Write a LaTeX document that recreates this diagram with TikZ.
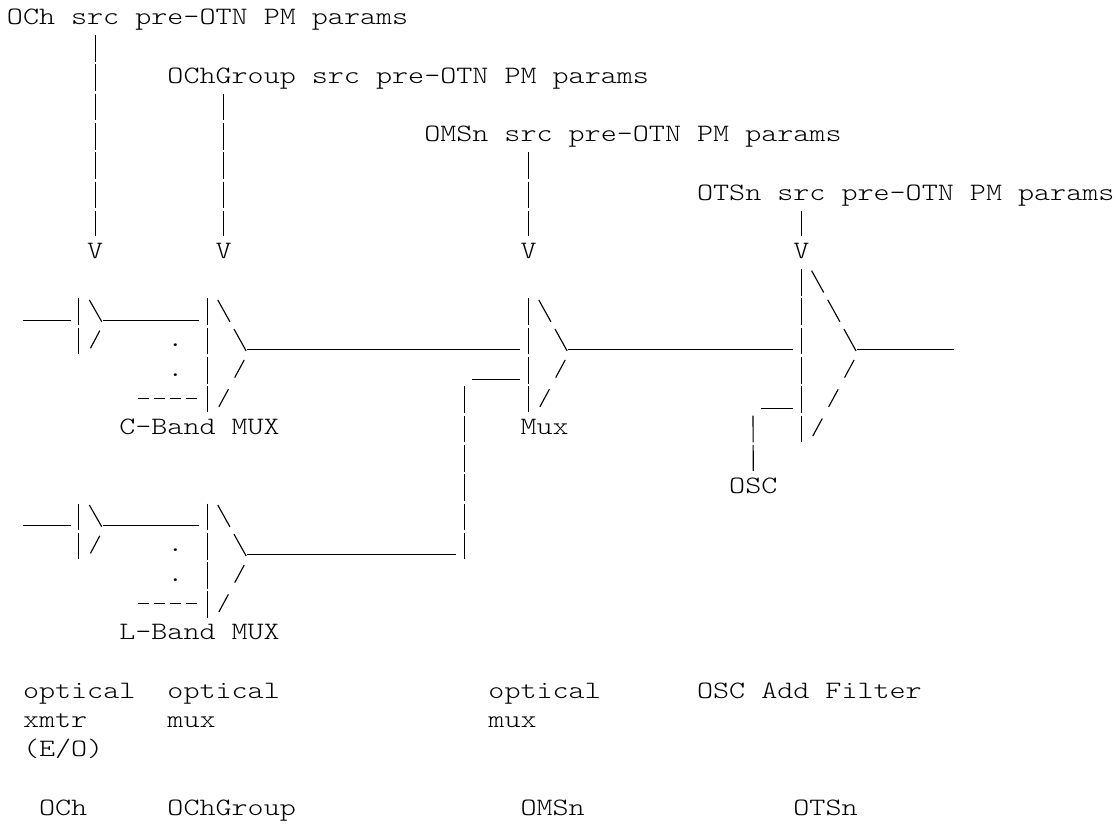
\documentclass[tikz,border=0pt]{standalone}
\usepackage{fontspec}
\setmonofont{Latin Modern Mono Light}[FakeStretch=1.223]
\tikzset{
    txt/.style={anchor=base west,inner sep=0pt,text height=16.7pt,text depth=7.7pt,font=\fontsize{18.75pt}{22pt}\ttfamily},
    wire/.style={draw,line width=.85pt},
    vbar/.style={wire,dash pattern=on 20pt off 1.975pt},
    bslash/.style={wire,dash pattern=on 18.75pt off 6.3pt},
    fslash/.style={wire,dash pattern=on 15pt off 10pt},
    minus/.style={wire,dash pattern=on 8.6pt off 3.44pt}
}
\begin{document}
\begin{tikzpicture}[x=12.0375pt,y=-21.975pt]
            \useasboundingbox (-.417,-.836) rectangle (69.117,27.32);

            % parameter labels
            \node   [txt]   at (0,0)    (ochsrc)    {OCh src pre-OTN PM params};
            \node   [txt]   at (10,2)   (grpsrc)    {OChGroup src pre-OTN PM params};
            \node   [txt]   at (26,4)   (omssrc)    {OMSn src pre-OTN PM params};
            \node   [txt]   at (43,6)   (otssrc)    {OTSn src pre-OTN PM params};
            \node   [txt]   at (5,8)    (ochv)      {V};
            \node   [txt]   at (13,8)   (grpv)      {V};
            \node   [txt]   at (32,8)   (omsv)      {V};
            \node   [txt]   at (49,8)   (otsv)      {V};

            \path   [vbar]  (ochv |- ochsrc.south) -- (ochv.north);
            \path   [vbar]  (grpv |- grpsrc.south) -- (grpv.north);
            \path   [vbar]  (omsv |- omssrc.south) -- (omsv.north);
            \path   [vbar]  (otsv |- otssrc.south) -- (otsv.north);

            % mux names and dots
            \node   [txt]   at (7,14)   (cmux)      {C-Band MUX};
            \node   [txt]   at (7,21)   (lmux)      {L-Band MUX};
            \node   [txt]   at (32,14)  (omux)      {Mux};
            \node   [txt]   at (45,16)  (osc)       {OSC};
            \node   [txt]   at (10,11)  (cdot1)     {.};
            \node   [txt]   at (10,12)  (cdot2)     {.};
            \node   [txt]   at (10,18)  (ldot1)     {.};
            \node   [txt]   at (10,19)  (ldot2)     {.};

            % ends of the connectors
            \coordinate (cin)   at (1,10.1);
            \coordinate (cbar)  at (4,10.1);
            \coordinate (ctip)  at (6,10.1);
            \coordinate (cout)  at (12,10.1);
            \coordinate (cdash) at (8.16,12.75);
            \coordinate (cdend) at (11.9,12.75);
            \coordinate (cmtip) at (15,11.1);
            \coordinate (omin)  at (32,11.1);
            \coordinate (omtip) at (35,11.1);
            \coordinate (otin)  at (49,11.1);
            \coordinate (ottip) at (53,11.1);
            \coordinate (otout) at (59,11.1);
            \coordinate (omin2) at (32,12.12);
            \coordinate (omjog) at (29,12.12);
            \coordinate (rise)  at (28.5,12.35);
            \coordinate (rised) at (28.5,18.24);
            \coordinate (lmtip) at (15,18.1);
            \coordinate (lmout) at (28,18.1);
            \coordinate (lin)   at (1,17.1);
            \coordinate (lbar)  at (4,17.1);
            \coordinate (ltip)  at (6,17.1);
            \coordinate (lout)  at (12,17.1);
            \coordinate (ldash) at (8.16,19.75);
            \coordinate (ldend) at (11.9,19.75);
            \coordinate (otin2) at (49,13.1);
            \coordinate (otjog) at (47,13.1);
            \coordinate (oscup) at (46.5,13.35);

            \path   [wire]  (cin) -- (cbar);
            \path   [wire]  (ctip) -- (cout);
            \path   [wire]  (cmtip) -- (omin);
            \path   [wire]  (omtip) -- (otin);
            \path   [wire]  (ottip) -- (otout);
            \path   [wire]  (omjog) -- (omin2);
            \path   [wire]  (lmtip) -- (lmout);
            \path   [wire]  (lin) -- (lbar);
            \path   [wire]  (ltip) -- (lout);
            \path   [wire]  (otjog) -- (otin2);
            \path   [vbar]  (rise) -- (rised);
            \path   [vbar]  (oscup) -- (osc.north);
            \path   [minus] (cdash) -- (cdend);
            \path   [minus] (ldash) -- (ldend);

            % C-Band transmitter and mux
            \path   [vbar]      (4.5,9.35) -- (4.5,11.24);
            \path   [bslash]    (5.15,9.4) -- (5.92,10.14);
            \path   [fslash]    (5.22,11.05) -- (5.8,10.45);
            \path   [vbar]      (12.5,9.35) -- (12.5,13.24);
            \path   [bslash]    (13.15,9.4) -- (14.92,11.14);
            \path   [fslash]    (13.22,13.05) -- (14.8,11.45);

            % L-Band transmitter and mux
            \path   [vbar]      (4.5,16.35) -- (4.5,18.24);
            \path   [bslash]    (5.15,16.4) -- (5.92,17.14);
            \path   [fslash]    (5.22,18.05) -- (5.8,17.45);
            \path   [vbar]      (12.5,16.35) -- (12.5,20.24);
            \path   [bslash]    (13.15,16.4) -- (14.92,18.14);
            \path   [fslash]    (13.22,20.05) -- (14.8,18.45);

            % OMSn mux
            \path   [vbar]      (32.5,9.35) -- (32.5,13.24);
            \path   [bslash]    (33.15,9.4) -- (34.92,11.14);
            \path   [fslash]    (33.22,13.05) -- (34.8,11.45);

            % OSC add filter
            \path   [vbar]      (49.5,8.35) -- (49.5,14.24);
            \path   [bslash]    (50.15,8.4) -- (52.92,11.14);
            \path   [fslash]    (50.22,14.05) -- (52.8,11.45);

            % bottom captions
            \node   [txt]   at (1,23)   (opt1)      {optical};
            \node   [txt]   at (10,23)  (opt2)      {optical};
            \node   [txt]   at (30,23)  (opt3)      {optical};
            \node   [txt]   at (43,23)  (oscadd)    {OSC Add Filter};
            \node   [txt]   at (1,24)   (xmtr)      {xmtr};
            \node   [txt]   at (10,24)  (mux1)      {mux};
            \node   [txt]   at (30,24)  (mux2)      {mux};
            \node   [txt]   at (1,25)   (eo)        {(E/O)};
            \node   [txt]   at (2,27)   (capoch)    {OCh};
            \node   [txt]   at (10,27)  (capgrp)    {OChGroup};
            \node   [txt]   at (32,27)  (capoms)    {OMSn};
            \node   [txt]   at (49,27)  (capots)    {OTSn};
        \end{tikzpicture}
\end{document}
